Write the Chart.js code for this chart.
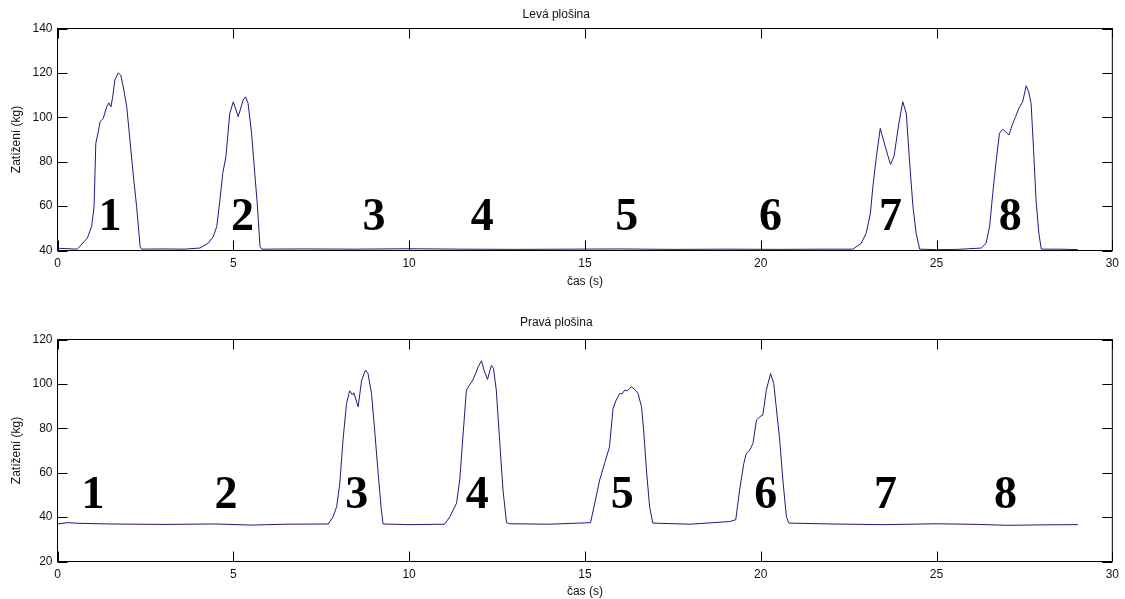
<!DOCTYPE html>
<html>
<head>
<meta charset="utf-8">
<script src="https://cdn.jsdelivr.net/npm/chart.js@4/dist/chart.umd.min.js"></script>
<style>
  html, body { margin: 0; padding: 0; background: #fff; }
  body { width: 1125px; height: 599px; position: relative; overflow: hidden; }
  .box { position: absolute; left: 0; width: 1125px; }
  #b1 { top: 0; height: 300px; }
  #b2 { top: 300px; height: 299px; }
</style>
</head>
<body>
<div class="box" id="b1"><canvas id="c1" width="1125" height="300"></canvas></div>
<div class="box" id="b2"><canvas id="c2" width="1125" height="299"></canvas></div>
<script>
// ---- Data: left platform (Levá plošina) ----
const tTop = [0, 0.3, 0.56, 0.85, 0.97, 1.04, 1.09, 1.16, 1.21, 1.30, 1.40, 1.46, 1.52, 1.57, 1.63, 1.73, 1.80, 1.87, 1.97, 2.06, 2.15, 2.25, 2.35, 2.39,
  3.0, 3.6,
  4.05, 4.29, 4.43, 4.53, 4.62, 4.70, 4.79, 4.90, 5.00, 5.14, 5.28, 5.35, 5.42, 5.52, 5.61, 5.68, 5.76, 5.81,
  7.0, 8.5, 10.0, 11.5, 13.0, 14.5, 16.0, 17.5, 19.0, 20.5, 21.8,
  22.62, 22.86, 23.00, 23.12, 23.19, 23.29, 23.40, 23.49, 23.57, 23.69, 23.79, 23.93, 24.04, 24.14, 24.23, 24.33, 24.42, 24.52,
  25.0, 25.6,
  26.27, 26.41, 26.51, 26.60, 26.70, 26.79, 26.88, 26.96, 27.06, 27.17, 27.25, 27.34, 27.45, 27.55, 27.62, 27.69, 27.76, 27.83, 27.91, 27.98,
  28.5, 29.02];
const vTop = [41.0, 40.8, 40.6, 45.6, 50.8, 59.8, 88.3, 93.5, 98.0, 99.5, 104.7, 106.5, 104.7, 109.2, 116.8, 120.0, 119.0, 113.7, 104.7, 89.8, 74.8, 59.8, 41.8, 40.6,
  40.7, 40.6,
  41.1, 43.3, 46.3, 50.8, 62.8, 74.8, 82.3, 101.8, 107.0, 100.3, 107.8, 109.2, 106.3, 92.8, 74.8, 61.3, 41.8, 40.6,
  40.7, 40.6, 40.8, 40.6, 40.5, 40.6, 40.7, 40.5, 40.6, 40.5, 40.6,
  40.6, 43.3, 47.8, 56.8, 68.8, 82.3, 95.0, 89.8, 85.3, 78.8, 82.3, 97.3, 107.0, 101.8, 80.8, 59.8, 47.8, 40.6,
  40.4, 40.5,
  41.1, 43.3, 50.8, 65.8, 80.8, 92.8, 94.6, 93.6, 92.0, 97.3, 100.3, 104.0, 107.0, 114.2, 111.5, 106.3, 85.3, 62.8, 47.8, 40.6,
  40.6, 40.4];

// ---- Data: right platform (Pravá plošina) ----
const tBot = [0, 0.3, 0.6, 1.5, 3.0, 4.5, 5.5, 6.5,
  7.70, 7.84, 7.94, 8.03, 8.12, 8.22, 8.31, 8.39, 8.43, 8.55, 8.65, 8.76, 8.83, 8.93, 9.02, 9.12, 9.21, 9.26,
  10.0,
  11.01, 11.16, 11.35, 11.44, 11.53, 11.63, 11.72, 11.81, 11.91, 11.96, 12.06, 12.13, 12.23, 12.34, 12.40, 12.48, 12.58, 12.67, 12.77, 12.86,
  14.0,
  15.16, 15.28, 15.42, 15.56, 15.70, 15.80, 15.89, 15.99, 16.06, 16.13, 16.21, 16.32, 16.42, 16.51, 16.61, 16.67, 16.75, 16.84, 16.93,
  18.0,
  19.12, 19.29, 19.40, 19.52, 19.59, 19.69, 19.78, 19.88, 19.97, 20.06, 20.16, 20.28, 20.37, 20.44, 20.54, 20.63, 20.73, 20.80,
  22.0, 23.5, 25.0, 26.2, 27.0, 28.0, 29.02];
const vBot = [36.9, 37.5, 37.2, 36.9, 36.7, 36.9, 36.4, 36.8,
  36.9, 40.2, 44.7, 55.3, 74.7, 91.2, 96.9, 95.0, 96.0, 89.7, 101.7, 106.2, 104.7, 95.7, 79.2, 59.7, 43.2, 36.9,
  36.6,
  36.8, 40.2, 46.3, 56.7, 76.2, 97.2, 99.5, 101.7, 105.4, 107.6, 110.4, 106.2, 102.0, 108.4, 107.0, 97.2, 73.2, 52.2, 37.5, 37.0,
  36.8,
  37.5, 46.3, 56.7, 64.2, 71.7, 89.0, 92.7, 95.7, 95.5, 97.2, 96.9, 98.7, 97.5, 95.7, 89.7, 79.2, 61.2, 44.7, 37.3,
  36.8,
  38.0, 38.8, 52.2, 64.2, 68.7, 70.2, 73.2, 83.7, 85.2, 86.0, 97.2, 104.7, 100.2, 89.7, 74.7, 56.7, 40.2, 37.3,
  36.9, 36.6, 37.0, 36.7, 36.3, 36.5, 36.6];

// ---- Annotation numbers (step labels) ----
const stepLabels = ['1', '2', '3', '4', '5', '6', '7', '8'];
const labelXTop = [1.49, 5.26, 9.00, 12.08, 16.19, 20.28, 23.69, 27.10];
const labelYTop = 49.3;
const labelXBot = [1.01, 4.79, 8.51, 11.94, 16.06, 20.14, 23.55, 26.96];
const labelYBot = 44.0;

// ---- Axis settings ----
const xMin = 0, xMax = 30, xStep = 5;
const yTopMin = 40, yTopMax = 140;
const yBotMin = 20, yBotMax = 120;
const yStep = 20;
const titles = ['Levá plošina', 'Pravá plošina'];
const xTitle = 'čas (s)';
const yTitle = 'Zatížení (kg)';

const LINE_COLOR = '#1c1c80';
const FONT = '"Liberation Sans", Arial, sans-serif';
Chart.defaults.color = '#111';
Chart.defaults.font.family = FONT;
Chart.defaults.font.size = 12;

const framePlugin = {
  id: 'matlabFrame',
  afterDatasetsDraw(chart, args, opts) {
    const {ctx, chartArea: a, scales: {x, y}} = chart;
    ctx.save();
    ctx.strokeStyle = '#000';
    ctx.lineWidth = 1;
    ctx.strokeRect(a.left, a.top, a.right - a.left, a.bottom - a.top);
    const L = 10;
    ctx.beginPath();
    x.ticks.forEach(t => {
      const px = Math.round(x.getPixelForValue(t.value)) + 0.5;
      ctx.moveTo(px, a.bottom); ctx.lineTo(px, a.bottom - L);
      ctx.moveTo(px, a.top); ctx.lineTo(px, a.top + L);
    });
    y.ticks.forEach(t => {
      const py = Math.round(y.getPixelForValue(t.value)) + 0.5;
      ctx.moveTo(a.left, py); ctx.lineTo(a.left + L, py);
      ctx.moveTo(a.right, py); ctx.lineTo(a.right - L, py);
    });
    ctx.stroke();
    // step numbers
    ctx.fillStyle = '#000';
    ctx.font = 'bold 46px "Liberation Serif", "Times New Roman", serif';
    ctx.textAlign = 'center';
    ctx.textBaseline = 'alphabetic';
    opts.xs.forEach((xv, i) => {
      ctx.fillText(stepLabels[i], x.getPixelForValue(xv), y.getPixelForValue(opts.yv));
    });
    ctx.restore();
  }
};

function makeChart(id, tArr, vArr, yMin, yMax, title, titlePad, xH, xTitlePadB, layoutPadB, labXs, labY) {
  const pts = tArr.map((t, i) => ({x: t, y: vArr[i]}));
  return new Chart(document.getElementById(id), {
    type: 'line',
    data: { datasets: [{ data: pts, borderColor: LINE_COLOR, borderWidth: 1, pointRadius: 0, tension: 0, fill: false }] },
    options: {
      responsive: false,
      animation: false,
      parsing: true,
      layout: { padding: { left: 0, right: 12.5, top: 0, bottom: layoutPadB } },
      plugins: {
        legend: { display: false },
        tooltip: { enabled: false },
        title: { display: true, text: title, color: '#111', font: { size: 12, weight: 'normal', family: FONT }, padding: titlePad },
        matlabFrame: { xs: labXs, yv: labY }
      },
      scales: {
        x: {
          type: 'linear', min: xMin, max: xMax,
          ticks: { stepSize: xStep, padding: 6, color: '#111', font: { size: 12 } },
          grid: { display: false, drawTicks: false },
          border: { display: false },
          title: { display: true, text: xTitle, color: '#111', font: { size: 12 }, padding: { top: 0, bottom: xTitlePadB } },
          afterFit: s => { s.height = xH; }
        },
        y: {
          type: 'linear', min: yMin, max: yMax,
          ticks: { stepSize: yStep, padding: 5, color: '#111', font: { size: 12 } },
          grid: { display: false, drawTicks: false },
          border: { display: false },
          title: { display: true, text: yTitle, color: '#111', font: { size: 12 }, padding: { top: 9.8, bottom: 0 } },
          afterFit: s => { s.width = 57.5; }
        }
      }
    },
    plugins: [framePlugin]
  });
}

makeChart('c1', tTop, vTop, yTopMin, yTopMax, titles[0], { top: 7.8, bottom: 6.3 }, 40, 1.6, 9.5, labelXTop, labelYTop);
makeChart('c2', tBot, vBot, yBotMin, yBotMax, titles[1], { top: 15.5, bottom: 9.6 }, 37.5, 0.1, 0, labelXBot, labelYBot);
</script>
</body>
</html>
